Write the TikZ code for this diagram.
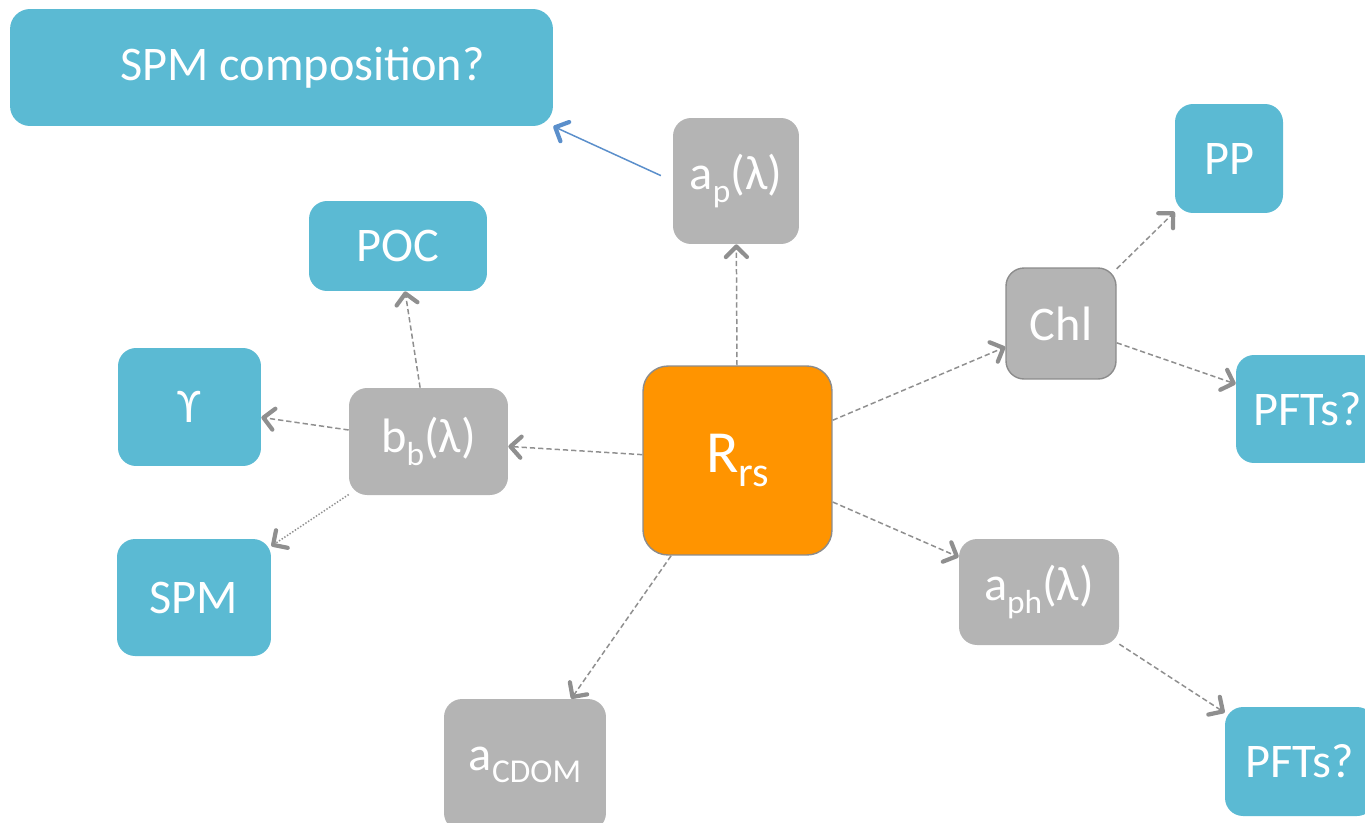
\documentclass[tikz,border=0pt]{standalone}
\usepackage{fontspec}
\setmainfont{Carlito}
\usetikzlibrary{arrows.meta}

\definecolor{boxblue}{HTML}{5BBAD3}
\definecolor{boxgray}{HTML}{B4B4B4}
\definecolor{boxorange}{HTML}{FF9400}
\definecolor{rimgray}{HTML}{8C8C8C}
\definecolor{arrowgray}{HTML}{8F8F8F}
\definecolor{linkblue}{HTML}{5B8FCB}

% lowered subscript, as the slides set it
\newcommand{\lowsub}[1]{\raisebox{-7pt}{\fontsize{19}{21}\selectfont #1}}

\tikzset{
    box/.style={text=white, rounded corners=0.36cm, inner sep=0pt, font=\fontsize{27.5}{32}\selectfont},
    bluebox/.style={box, fill=boxblue},
    graybox/.style={box, fill=boxgray},
    link/.style={arrowgray, line width=0.85pt, dash pattern=on 3pt off 1.7pt,
        -{Straight Barb[length=6pt, width=12pt, line width=2.4pt, round]}},
}

\begin{document}
\begin{tikzpicture}[x=0.02cm, y=-0.02cm]
    \useasboundingbox (0,0) rectangle (1365,822);

    % Centre node
    \node[box, fill=boxorange, draw=rimgray, line width=0.8pt, rounded corners=0.5cm,
        minimum width=3.78cm, minimum height=3.78cm, font=\fontsize{34}{38}\selectfont]
        (rrs) at (737.5,460.5) {R\raisebox{-8pt}{\fontsize{24}{26}\selectfont rs}};

    % Gray nodes
    \node[graybox, minimum width=2.52cm, minimum height=2.52cm] (ap) at (736,181) {a\lowsub{p}(λ)};
    \node[graybox, minimum width=3.18cm, minimum height=2.14cm] (bb) at (428.5,441.5) {b\lowsub{b}(λ)};
    \node[graybox, draw=rimgray, line width=0.8pt, minimum width=2.2cm, minimum height=2.22cm] (chl) at (1061,323.5) {Chl};
    \node[graybox, minimum width=3.2cm, minimum height=2.12cm] (aph) at (1039,592) {a\lowsub{ph}(λ)};
    \node[graybox, minimum width=3.24cm, minimum height=2.64cm] (acdom) at (525,765) {a\lowsub{CDOM}};

    % Blue nodes
    \node[bluebox, minimum width=10.86cm, minimum height=2.34cm, rounded corners=0.4cm] (spmc) at (281.5,67.5) {\hspace{0.84cm}\raisebox{-3pt}{SPM composition?}};
    \node[bluebox, minimum width=3.56cm, minimum height=1.8cm] (poc) at (398,246) {POC};
    \node[bluebox, minimum width=2.86cm, minimum height=2.36cm] (ups) at (189.5,407) {ϒ};
    \node[bluebox, minimum width=3.08cm, minimum height=2.34cm] (spm) at (194,597.5) {SPM};
    \node[bluebox, minimum width=2.16cm, minimum height=2.18cm] (pp) at (1229,158.5) {PP};
    \node[bluebox, minimum width=2.88cm, minimum height=2.16cm] (pfta) at (1308,409) {PFTs?};
    \node[bluebox, minimum width=3cm, minimum height=2.18cm] (pftb) at (1300,761.5) {PFTs?};

    % Connectors
    \draw[link] (rrs) -- (ap);
    \draw[link] (rrs) -- (bb);
    \draw[link] (rrs) -- (chl);
    \draw[link] (rrs) -- (aph);
    \draw[link] (rrs) -- (acdom);
    \draw[link] (bb) -- (poc);
    \draw[link] (bb) -- (ups);
    \draw[link, dash pattern=on 0.8pt off 1pt] (bb) -- (spm);
    \draw[link] (chl) -- (pp);
    \draw[link] (chl) -- (pfta);
    \draw[link] (aph) -- (pftb);
    \draw[link, linkblue, solid, shorten <=0.26cm] (ap.west) -- (spmc.south east);
\end{tikzpicture}
\end{document}
